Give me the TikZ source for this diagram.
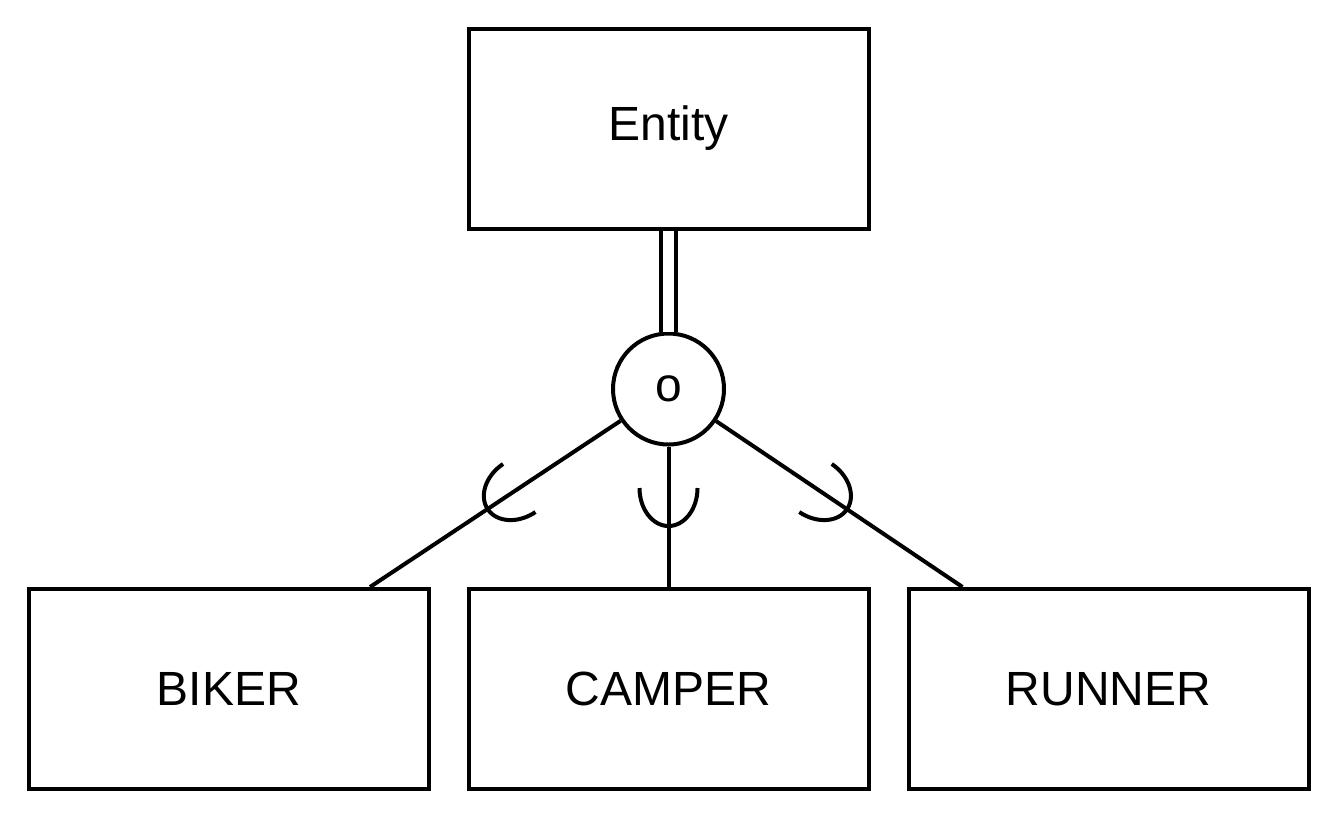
\documentclass[tikz,border=0pt]{standalone}
\usepackage{fontspec}
\setmainfont{Liberation Sans}
\usetikzlibrary{calc}
\begin{document}
\begin{tikzpicture}[x=0.5pt,y=-0.5pt,
  every node/.style={font=\fontsize{24}{29}\selectfont},
  entbox/.style={draw, line width=2pt, minimum width=200pt, minimum height=100pt, inner sep=0pt},
  disjcirc/.style={draw, circle, line width=2pt, minimum size=55.5pt, inner sep=0pt},
  conn/.style={line width=2pt}]
\useasboundingbox (0,0) rectangle (1336,816);
% superclass and disjointness circle
\node[entbox] (entity) at (668.5,128.5) {Entity};
\node[disjcirc] (disj) at (668.5,389) {o};
% subclasses
\node[entbox] (biker) at (229,689) {BIKER};
\node[entbox] (camper) at (668.5,689) {CAMPER};
\node[entbox] (runner) at (1108.5,689) {RUNNER};
\coordinate (bikerEnd) at ([xshift=70.5pt]biker.north);
\coordinate (runnerEnd) at ([xshift=-73pt]runner.north);
\draw[conn, double, double distance=5.7pt] (entity) -- (disj);
\draw[conn] (disj) -- (bikerEnd);
\draw[conn] (disj) -- (camper);
\draw[conn] (disj) -- (runnerEnd);
% subset cups
\coordinate (bikerCup) at ($(disj.center)!0.5!(bikerEnd)$);
\coordinate (camperCup) at ($(disj.center)!0.5!(camper.north)$);
\coordinate (runnerCup) at ($(disj.center)!0.5!(runnerEnd)$);
\draw[conn, shift={(bikerCup)}, rotate=-56] (-14.5pt,0) arc[start angle=180, end angle=360, x radius=14.5pt, y radius=19pt];
\draw[conn, shift={(camperCup)}] (-14.5pt,0) arc[start angle=180, end angle=360, x radius=14.5pt, y radius=19pt];
\draw[conn, shift={(runnerCup)}, rotate=56] (-14.5pt,0) arc[start angle=180, end angle=360, x radius=14.5pt, y radius=19pt];
\end{tikzpicture}
\end{document}
